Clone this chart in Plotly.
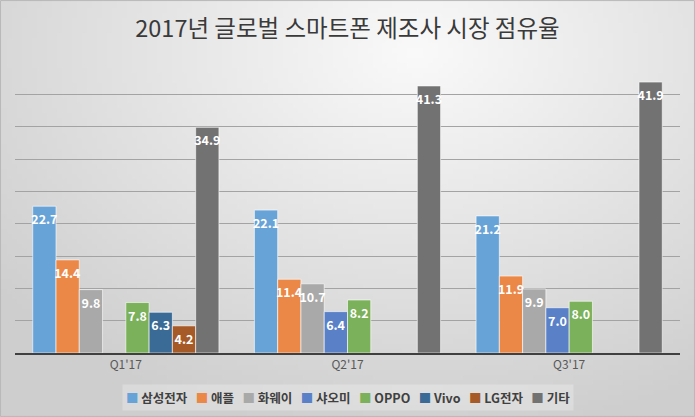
import base64
import struct
import zlib
import plotly.graph_objects as go

# quarters and vendor shares (%)
quarters = ["Q1'17", "Q2'17", "Q3'17"]
vendors = ["삼성전자", "애플", "화웨이", "샤오미", "OPPO", "Vivo", "LG전자", "기타"]
samsung = [22.7, 22.1, 21.2]
apple = [14.4, 11.4, 11.9]
huawei = [9.8, 10.7, 9.9]
xiaomi = [None, 6.4, 7.0]
oppo = [7.8, 8.2, 8.0]
vivo = [6.3, None, None]
lg = [4.2, None, None]
others = [34.9, 41.3, 41.9]

series = [samsung, apple, huawei, xiaomi, oppo, vivo, lg, others]
colors = ["#68A3D7", "#EB8847", "#A9A9A9", "#5A80C8", "#7BB15A", "#3A6A96", "#A65A28", "#727272"]


# radial gray background, built as a tiny png
def gradient_png(w, h):
    rows = b""
    for j in range(h):
        rows += b"\x00"
        for i in range(w):
            dx = (i / (w - 1) - 0.6) * 1.2
            dy = (j / (h - 1) - 0.12)
            d = min(1.0, (dx * dx + dy * dy) ** 0.5 / 0.95)
            v = int(250 - (250 - 206) * d)
            rows += bytes([v, v, v])

    def chunk(tag, data):
        c = struct.pack(">I", len(data)) + tag + data
        return c + struct.pack(">I", zlib.crc32(tag + data) & 0xFFFFFFFF)

    png = b"\x89PNG\r\n\x1a\n"
    png += chunk(b"IHDR", struct.pack(">IIBBBBB", w, h, 8, 2, 0, 0, 0))
    png += chunk(b"IDAT", zlib.compress(rows))
    png += chunk(b"IEND", b"")
    return "data:image/png;base64," + base64.b64encode(png).decode()


W, H = 695, 417
L, R, T, B = 15, 15, 62, 64
pw, ph = W - L - R, H - T - B

fig = go.Figure()
for name, vals, col in zip(vendors, series, colors):
    fig.add_trace(go.Bar(
        x=quarters, y=vals, name=name,
        marker=dict(color=col, line=dict(color="rgba(255,255,255,0.6)", width=1)),
        text=[None if v is None else f"<b>{v:.1f}</b>" for v in vals],
        textposition="inside", insidetextanchor="end", textangle=0,
        textfont=dict(color="white", size=12.5, family="Noto Sans CJK KR"),
        cliponaxis=False,
    ))

# legend drawn as one line of text with coloured squares
legend_text = "&nbsp;&nbsp;&nbsp;".join(
    f"<span style='color:{c}'>■</span> <b>{n}</b>" for n, c in zip(vendors, colors)
)

fig.update_layout(
    width=W, height=H,
    margin=dict(l=L, r=R, t=T, b=B),
    barmode="group", bargap=0.16, bargroupgap=0,
    paper_bgcolor="rgba(0,0,0,0)", plot_bgcolor="rgba(0,0,0,0)",
    font=dict(family="Noto Sans CJK KR", color="#404040"),
    uniformtext=dict(minsize=12.5, mode="show"),
    showlegend=False,
    title=dict(text="2017년 글로벌 스마트폰 제조사 시장 점유율",
               x=0.5, xanchor="center", y=0.93, yanchor="middle",
               font=dict(size=23.5, color="#3a3a3a", family="Noto Sans CJK KR")),
    annotations=[dict(text=legend_text, xref="paper", yref="paper",
                      x=0.5, y=-(398 - (H - B)) / ph, xanchor="center", yanchor="middle",
                      showarrow=False, bgcolor="rgba(255,255,255,0.25)",
                      borderpad=3, font=dict(size=12.5, color="#404040"))],
    images=[dict(source=gradient_png(139, 83), xref="paper", yref="paper",
                 x=-L / pw, y=1 + T / ph, sizex=W / pw, sizey=H / ph,
                 sizing="stretch", layer="below")],
    shapes=[dict(type="rect", xref="paper", yref="paper",
                 x0=-L / pw + 0.0008, x1=1 + R / pw - 0.0008,
                 y0=-B / ph + 0.002, y1=1 + T / ph - 0.002,
                 line=dict(color="#b8b8b8", width=1))],
)
fig.update_xaxes(showline=True, linecolor="#404040", linewidth=2, ticks="",
                 tickfont=dict(size=12, color="#595959"), fixedrange=True)
fig.update_yaxes(range=[0, 45], dtick=5, showticklabels=False, gridcolor="#a3a3a3",
                 gridwidth=1, zeroline=False, fixedrange=True)

# drop the page's default body margin so the figure sits at the corner
fig.write_html("out.html", config={"displayModeBar": False},
               post_script="document.body.style.margin='0';")
